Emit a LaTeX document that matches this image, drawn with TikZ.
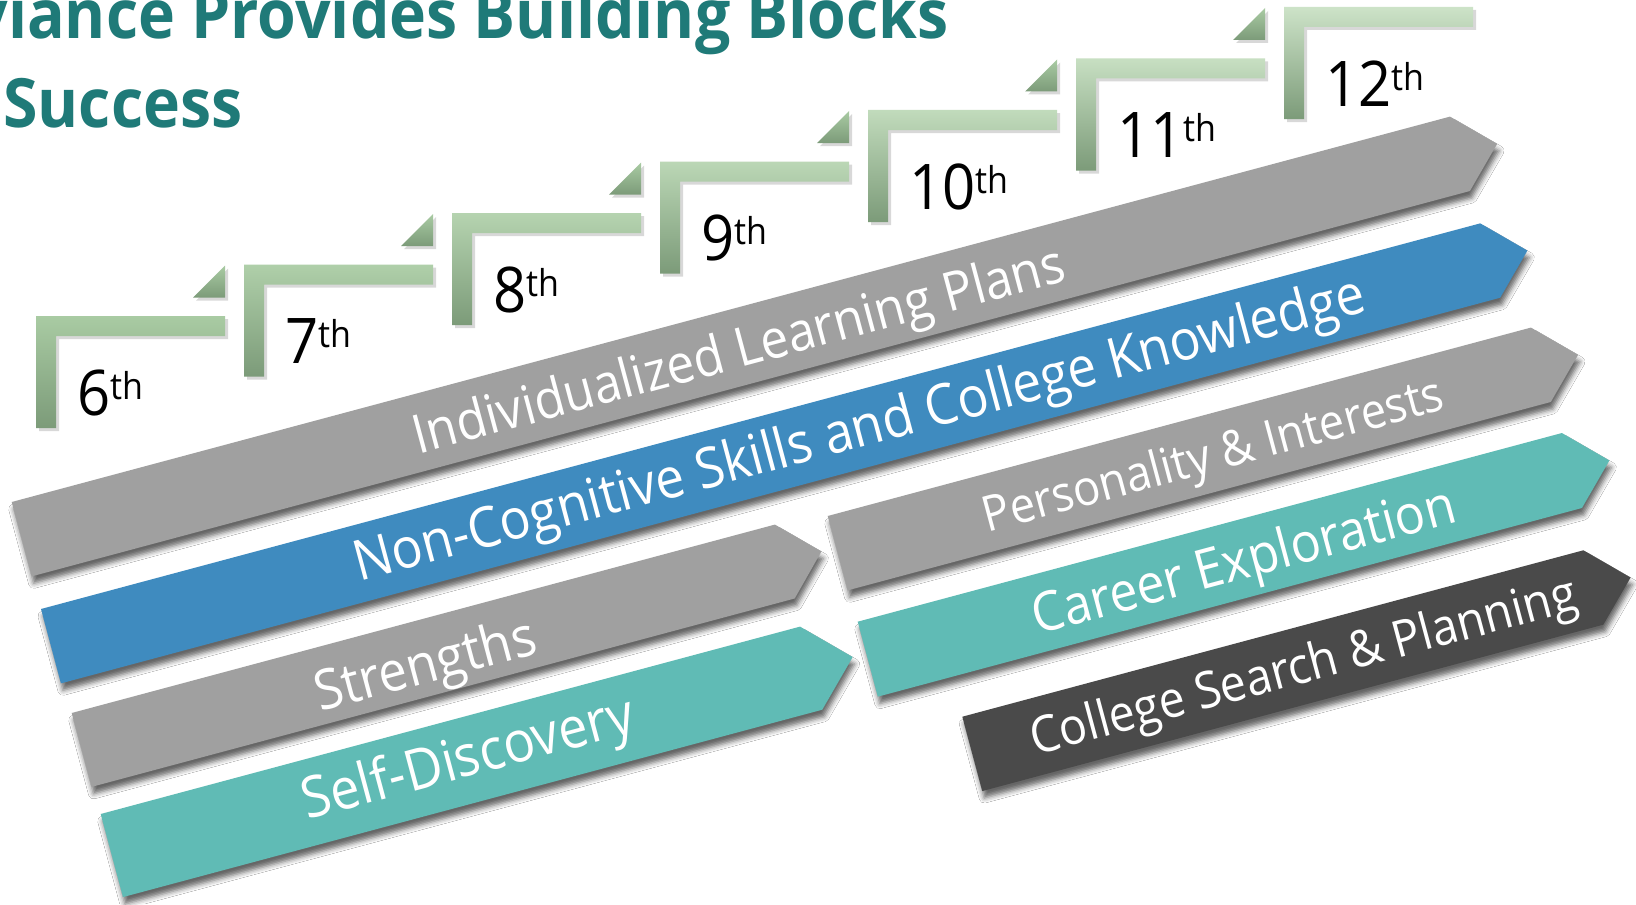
\documentclass[tikz,border=0pt]{standalone}
\usepackage{fontspec}
\setmainfont{Open Sans}[FakeStretch=0.92]
\usetikzlibrary{shadows,shadows.blur}

\definecolor{bandgray}{HTML}{A0A0A0}
\definecolor{bandblue}{HTML}{3F8BBF}
\definecolor{bandteal}{HTML}{60BBB5}
\definecolor{banddark}{HTML}{4A4A4A}
\definecolor{titleteal}{HTML}{1F7A78}
\definecolor{steplo}{HTML}{A9CBA3}
\definecolor{stephi}{HTML}{CDE3C8}
\definecolor{stepdark}{HTML}{7C9B79}

\newcommand\ordth{\raisebox{8pt}{\fontsize{18.5}{18.5}\selectfont th}}

\tikzset{
  band/.style={fill=#1, blur shadow={shadow xshift=1pt, shadow yshift=-3.5pt, shadow blur radius=2.5pt, shadow opacity=60}},
  bandtext/.style={text=white, anchor=base west, inner sep=0pt, rotate=15, font=\fontsize{#1}{#1}\selectfont},
  stepbar/.style={drop shadow={shadow xshift=1.5pt, shadow yshift=-1.5pt, opacity=0.3}, bottom color=stepdark},
  grade/.style={anchor=base west, inner sep=0pt, font=\fontsize{31.5}{31.5}\selectfont},
  title/.style={inner sep=0pt, text=titleteal, font=\bfseries\fontsize{34}{34}\selectfont}
}

\begin{document}
\begin{tikzpicture}[x=0.5pt,y=-0.5pt]
  \path[use as bounding box, fill=white] (0,0) rectangle (1636,904);

  % title, cut by the page edge
  \node[title, anchor=base east] (title) at (949,39) {viance Provides Building Blocks};
  \node[title, anchor=base west] (title2) at (3,127) {Success};

  % grade steps
  \foreach \g [count=\i from 0] in {6,...,12} {
    \pgfmathsetmacro\sx{36+208*\i}
    \pgfmathsetmacro\sy{316-51.5*\i}
    \pgfmathtruncatemacro\pct{100-\i*100/6}
    \path[stepbar, top color=steplo!\pct!stephi] (\sx,\sy) -- ++(189,0) -- ++(0,20) -- ++(-169,0) -- ++(0,92) -- ++(-20,0) -- cycle;
    \node[grade] (g\g) at (\sx+41,\sy+99) {\g\ordth};
  }
  \foreach \i in {1,...,6} {
    \pgfmathsetmacro\sx{36+208*\i}
    \pgfmathsetmacro\sy{316-51.5*\i}
    \path[stepbar, top color=steplo] (\sx-19,\sy+1) -- (\sx-19,\sy+33) -- (\sx-51,\sy+33) -- cycle;
  }

  % bands
  \begin{scope}[shift={(11.7,502)}, rotate=15]
    \path[band=bandgray] (0,0) -- (1489,0) -- (1527.5,38.5) -- (1489,77) -- (0,77) -- cycle;
    \node[bandtext=27] (ilp) at (405,59) {Individualized Learning Plans};
  \end{scope}
  \begin{scope}[shift={(41,609)}, rotate=15]
    \path[band=bandblue] (0,0) -- (1490,0) -- (1528.5,38.5) -- (1490,77) -- (0,77) -- cycle;
    \node[bandtext=28] (ncs) at (314,56) {Non-Cognitive Skills and College Knowledge};
  \end{scope}
  \begin{scope}[shift={(71.7,713)}, rotate=15]
    \path[band=bandgray] (0,0) -- (728,0) -- (766,38) -- (728,76.5) -- (0,76.5) -- cycle;
    \node[bandtext=27.7] (str) at (240,63) {Strengths};
  \end{scope}
  \begin{scope}[shift={(100.7,814)}, rotate=15]
    \path[band=bandteal] (0,0) -- (724,0) -- (767,43) -- (724,86) -- (0,86) -- cycle;
    \node[bandtext=28.5] (sd) at (198,59) {Self-Discovery};
  \end{scope}
  \begin{scope}[shift={(827.7,516)}, rotate=15]
    \path[band=bandgray] (0,0) -- (728,0) -- (766.5,38.5) -- (728,77) -- (0,77) -- cycle;
    \node[bandtext=24.6] (pi) at (150,57) {Personality \& Interests};
  \end{scope}
  \begin{scope}[shift={(857.7,621.7)}, rotate=15]
    \path[band=bandteal] (0,0) -- (729,0) -- (767.8,38.8) -- (729,77.6) -- (0,77.6) -- cycle;
    \node[bandtext=27.3] (ce) at (170,59) {Career Exploration};
  \end{scope}
  \begin{scope}[shift={(962.3,716.7)}, rotate=15]
    \path[band=banddark] (0,0) -- (643,0) -- (681.5,38.5) -- (643,77) -- (0,77) -- cycle;
    \node[bandtext=25.3] (csp) at (60,56) {College Search \& Planning};
  \end{scope}
\end{tikzpicture}
\end{document}
